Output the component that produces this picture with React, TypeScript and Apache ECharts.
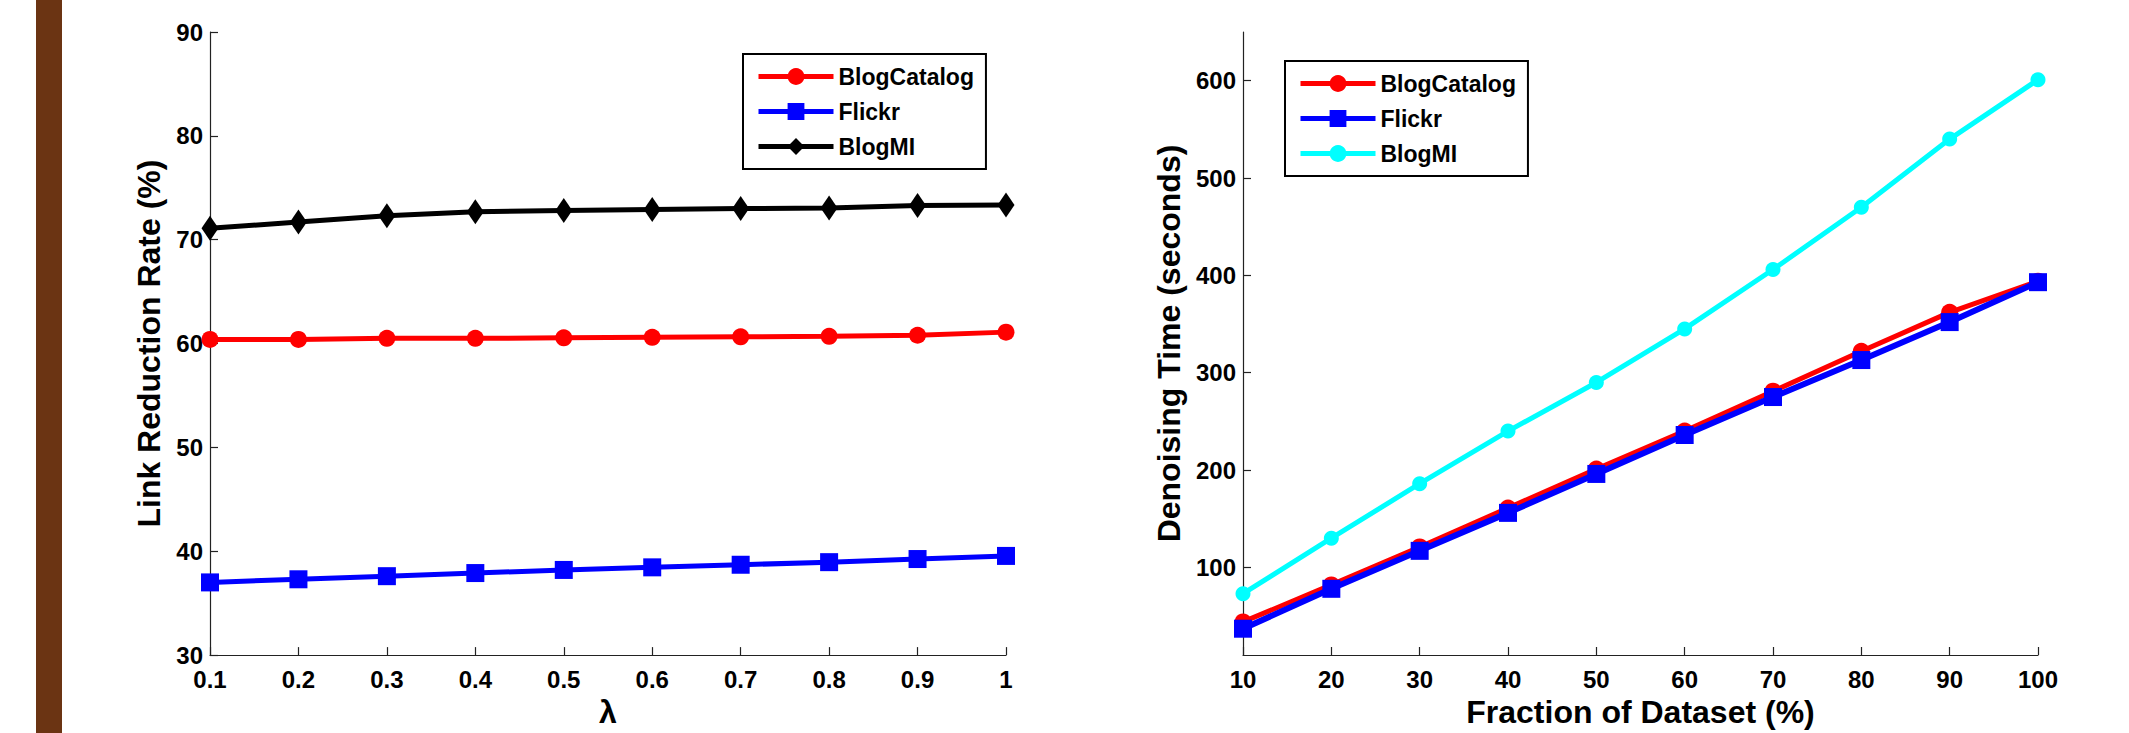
import React, { useEffect, useRef } from 'react';
import * as echarts from 'echarts';

const FONT = "'Liberation Sans', Arial, Helvetica, sans-serif";

// Left chart: Link Reduction Rate vs lambda
const lambdaCats = ['0.1', '0.2', '0.3', '0.4', '0.5', '0.6', '0.7', '0.8', '0.9', '1'];
const lrBlogCatalog = [60.4, 60.4, 60.5, 60.5, 60.55, 60.6, 60.65, 60.7, 60.8, 61.1];
const lrFlickr = [37.0, 37.3, 37.6, 37.9, 38.2, 38.45, 38.7, 38.95, 39.25, 39.55];
const lrBlogMI = [71.1, 71.7, 72.3, 72.7, 72.8, 72.9, 73.0, 73.05, 73.3, 73.35];

// Right chart: Denoising time vs fraction of dataset
const fractionCats = ['10', '20', '30', '40', '50', '60', '70', '80', '90', '100'];
const dtBlogCatalog = [44, 82, 121, 161, 201, 240, 281, 322, 362, 394];
const dtFlickr = [37, 78, 117, 156, 196, 236, 275, 313, 352, 393];
const dtBlogMI = [73, 130, 186, 240, 290, 345, 406, 470, 540, 601];
const dtTicks = [100, 200, 300, 400, 500, 600];

const seriesNames = ['BlogCatalog', 'Flickr', 'BlogMI'];

const labelStyle = { fontFamily: FONT, fontWeight: 'bold' as const, fontSize: 24, color: '#000' };
const nameStyle = { fontFamily: FONT, fontWeight: 'bold' as const, fontSize: 32, color: '#000' };
const axisLine = { show: true, lineStyle: { color: '#222', width: 1.2 } };

function legendCfg(left: number, top: number) {
  return {
    orient: 'vertical',
    left,
    top,
    itemWidth: 75,
    itemHeight: 21,
    itemGap: 12,
    padding: [11, 12, 11, 13],
    borderColor: '#000',
    borderWidth: 2,
    backgroundColor: '#fff',
    selectedMode: false,
    lineStyle: { width: 5 },
    textStyle: { fontFamily: FONT, fontWeight: 'bold', fontSize: 23, color: '#000' },
    data: seriesNames,
  };
}

function xAxisCfg(cats: string[], name: string, gap: number) {
  return {
    type: 'category',
    data: cats,
    boundaryGap: false,
    name,
    nameLocation: 'middle',
    nameGap: gap,
    nameTextStyle: nameStyle,
    axisLine,
    axisTick: { show: true, inside: true, length: 8, lineStyle: { color: '#222', width: 1.2 } },
    axisLabel: { ...labelStyle, margin: 12 },
    splitLine: { show: false },
  };
}

const leftOption = {
  animation: false,
  backgroundColor: '#fff',
  graphic: [
    { type: 'rect', shape: { x: 36, y: 0, width: 26, height: 733 }, style: { fill: '#6B3413' }, silent: true },
  ],
  grid: { left: 210, top: 32, width: 796, height: 624, containLabel: false },
  legend: legendCfg(743, 54),
  xAxis: xAxisCfg(lambdaCats, 'λ', 38),
  yAxis: {
    type: 'value',
    min: 30,
    max: 90,
    interval: 10,
    name: 'Link Reduction Rate (%)',
    nameLocation: 'middle',
    nameGap: 44,
    nameTextStyle: nameStyle,
    axisLine,
    axisTick: { show: true, inside: true, length: 8, lineStyle: { color: '#222', width: 1.2 } },
    axisLabel: { ...labelStyle, margin: 7 },
    splitLine: { show: false },
  },
  series: [
    {
      name: 'BlogCatalog', type: 'line', data: lrBlogCatalog,
      symbol: 'circle', symbolSize: 17,
      lineStyle: { color: '#ff0000', width: 5 },
      itemStyle: { color: '#ff0000' },
    },
    {
      name: 'Flickr', type: 'line', data: lrFlickr,
      symbol: 'rect', symbolSize: 18,
      lineStyle: { color: '#0000ff', width: 5 },
      itemStyle: { color: '#0000ff' },
    },
    {
      name: 'BlogMI', type: 'line', data: lrBlogMI,
      symbol: 'diamond', symbolSize: [17, 25],
      lineStyle: { color: '#000000', width: 5 },
      itemStyle: { color: '#000000' },
    },
  ],
};

const rightOption = {
  animation: false,
  backgroundColor: '#fff',
  grid: { left: 179, top: 32, width: 795, height: 624, containLabel: false },
  legend: legendCfg(221, 61),
  xAxis: xAxisCfg(fractionCats, 'Fraction of Dataset (%)', 41),
  yAxis: {
    type: 'value',
    min: 10,
    max: 650,
    name: 'Denoising Time (seconds)',
    nameLocation: 'middle',
    nameGap: 58,
    nameTextStyle: nameStyle,
    axisLine,
    axisTick: { show: true, inside: true, length: 8, customValues: dtTicks, lineStyle: { color: '#222', width: 1.2 } },
    axisLabel: {
      ...labelStyle,
      margin: 7,
      customValues: dtTicks,
      formatter: (v: number) => (v % 100 === 0 ? String(v) : ''),
    },
    splitLine: { show: false },
  },
  series: [
    {
      name: 'BlogCatalog', type: 'line', data: dtBlogCatalog,
      symbol: 'circle', symbolSize: 17,
      lineStyle: { color: '#ff0000', width: 5 },
      itemStyle: { color: '#ff0000' },
    },
    {
      name: 'Flickr', type: 'line', data: dtFlickr,
      symbol: 'rect', symbolSize: 18,
      lineStyle: { color: '#0000ff', width: 6 },
      itemStyle: { color: '#0000ff' },
    },
    {
      name: 'BlogMI', type: 'line', data: dtBlogMI,
      symbol: 'circle', symbolSize: 15,
      lineStyle: { color: '#00ffff', width: 5 },
      itemStyle: { color: '#00ffff' },
    },
  ],
};

function Chart({ option, style }: { option: any; style: React.CSSProperties }) {
  const ref = useRef<HTMLDivElement>(null);
  useEffect(() => {
    if (!ref.current) return;
    const chart = echarts.init(ref.current, null, { renderer: 'svg' });
    chart.setOption(option);
    return () => chart.dispose();
  }, [option]);
  return <div ref={ref} style={style} />;
}

export default function App() {
  return (
    <div style={{ position: 'fixed', left: 0, top: 0, width: 2129, height: 733, background: '#fff' }}>
      <Chart option={leftOption} style={{ position: 'absolute', left: 0, top: 0, width: 1064, height: 733 }} />
      <Chart option={rightOption} style={{ position: 'absolute', left: 1064, top: 0, width: 1065, height: 733 }} />
    </div>
  );
}
